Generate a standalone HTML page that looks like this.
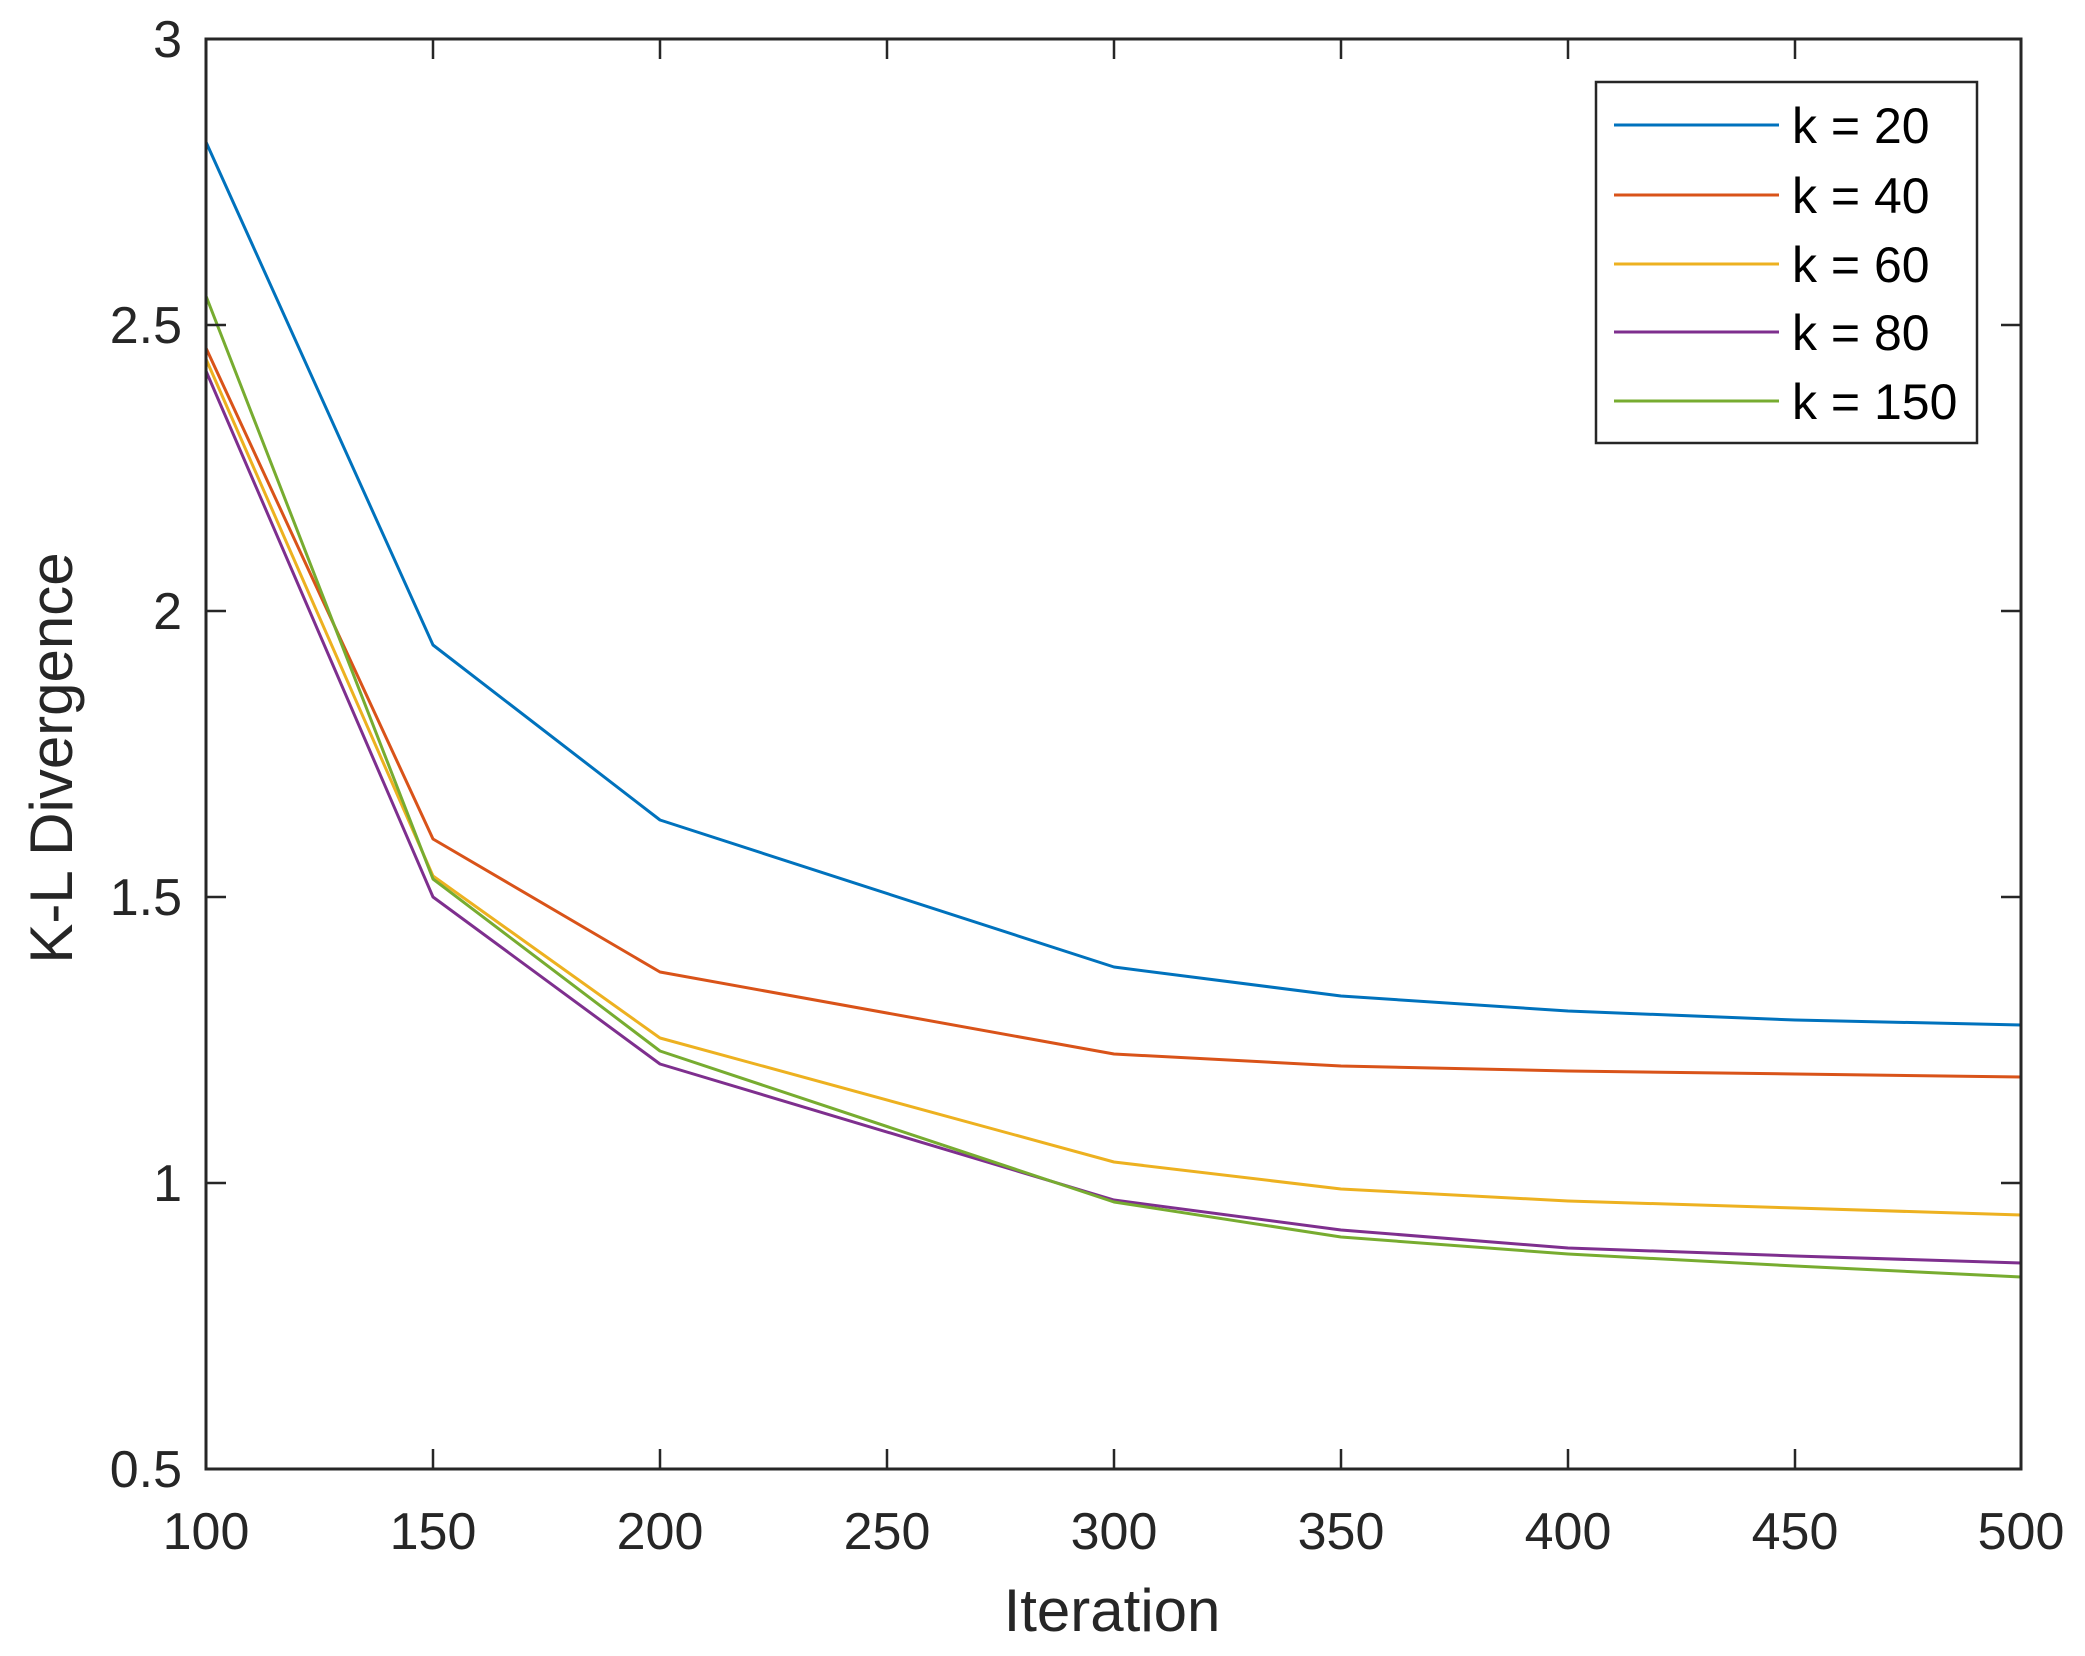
<!DOCTYPE html>
<html><head><meta charset="utf-8"><style>html,body{margin:0;padding:0;background:#fff}svg{display:block}</style></head>
<body>
<svg width="2085" height="1656" viewBox="0 0 2085 1656" xmlns="http://www.w3.org/2000/svg" font-family="Liberation Sans, Arial, sans-serif">
<rect width="2085" height="1656" fill="#fff"/>
<g fill="none" stroke-width="3" stroke-linejoin="round">
<polyline stroke="#0072BD" points="206,142 433,645 660,820 1114,967 1341,996 1568,1011 1795,1020 2021,1025"/>
<polyline stroke="#D95319" points="206,348 433,839 660,972 1114,1054 1341,1066 1568,1071 1795,1074 2021,1077"/>
<polyline stroke="#EDB120" points="206,359 433,876 660,1038 1114,1162 1341,1189 1568,1201 1795,1208 2021,1215"/>
<polyline stroke="#7E2F8E" points="206,371 433,897 660,1064 1114,1200 1341,1230 1568,1248 1795,1256 2021,1263"/>
<polyline stroke="#77AC30" points="206,296 433,879 660,1051 1114,1202 1341,1237 1568,1254 1795,1266 2021,1277"/>
</g>
<g stroke="#262626" stroke-width="3" fill="none">
<rect x="206" y="39" width="1815" height="1430"/>
</g>
<g stroke="#262626" stroke-width="2.5">
<path d="M206,1469v-20M433,1469v-20M660,1469v-20M887,1469v-20M1114,1469v-20M1341,1469v-20M1568,1469v-20M1795,1469v-20M2021,1469v-20"/>
<path d="M206,39v20M433,39v20M660,39v20M887,39v20M1114,39v20M1341,39v20M1568,39v20M1795,39v20M2021,39v20"/>
<path d="M206,39h20M206,325h20M206,611h20M206,897h20M206,1183h20M206,1469h20"/>
<path d="M2021,39h-20M2021,325h-20M2021,611h-20M2021,897h-20M2021,1183h-20M2021,1469h-20"/>
</g>
<g font-size="52" fill="#262626" text-anchor="middle">
<text x="206" y="1549">100</text><text x="433" y="1549">150</text><text x="660" y="1549">200</text>
<text x="887" y="1549">250</text><text x="1114" y="1549">300</text><text x="1341" y="1549">350</text>
<text x="1568" y="1549">400</text><text x="1795" y="1549">450</text><text x="2021" y="1549">500</text>
</g>
<g font-size="52" fill="#262626" text-anchor="end">
<text x="182" y="57">3</text><text x="182" y="343">2.5</text><text x="182" y="629">2</text>
<text x="182" y="915">1.5</text><text x="182" y="1201">1</text><text x="182" y="1487">0.5</text>
</g>
<text x="1112" y="1631" font-size="60" fill="#262626" text-anchor="middle">Iteration</text>
<text transform="translate(72,758) rotate(-90)" font-size="60" fill="#262626" text-anchor="middle">K-L Divergence</text>
<rect x="1596" y="82" width="381" height="361" fill="#fff" stroke="#262626" stroke-width="2.5"/>
<g stroke-width="3">
<line x1="1614" y1="125" x2="1779" y2="125" stroke="#0072BD"/>
<line x1="1614" y1="195" x2="1779" y2="195" stroke="#D95319"/>
<line x1="1614" y1="264" x2="1779" y2="264" stroke="#EDB120"/>
<line x1="1614" y1="332" x2="1779" y2="332" stroke="#7E2F8E"/>
<line x1="1614" y1="401" x2="1779" y2="401" stroke="#77AC30"/>
</g>
<g font-size="50" fill="#000">
<text x="1792" y="143">k = 20</text>
<text x="1792" y="213">k = 40</text>
<text x="1792" y="282">k = 60</text>
<text x="1792" y="350">k = 80</text>
<text x="1792" y="419">k = 150</text>
</g>
</svg>
</body></html>
